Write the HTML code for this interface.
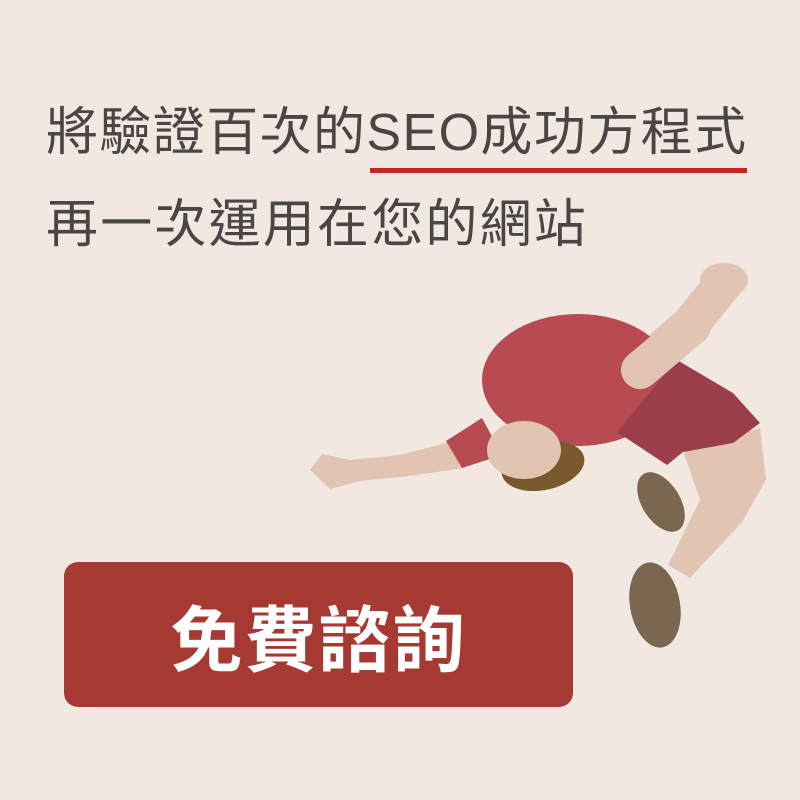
<!DOCTYPE html>
<html><head><meta charset="utf-8"><style>
html,body{margin:0;padding:0}
body{width:800px;height:800px;background:#f1e8e1;position:relative;overflow:hidden;font-family:"Liberation Sans","Noto Sans CJK TC",sans-serif}
.t{position:absolute;left:46px;color:#4a4646;font-size:52px;white-space:nowrap;letter-spacing:1.4px}
#btn{position:absolute;left:64px;top:562px;width:509px;height:145px;border-radius:14px;background:#a63a32;color:#fff;font-size:72px;font-weight:bold;display:flex;align-items:center;justify-content:center;letter-spacing:2px}
</style></head><body>
<div class="t" style="top:90px">將驗證百次的<span style="position:relative">SEO成功方程式<span style="position:absolute;left:4px;right:0px;top:64px;height:5px;background:#c0281e"></span></span></div>
<div class="t" style="top:182px;letter-spacing:2.2px">再一次運用在您的網站</div>
<svg width="800" height="800" style="position:absolute;left:0;top:0">
<path d="M640,368 L690,325 L724,283" stroke="#e1c4b2" stroke-width="38" stroke-linecap="round" stroke-linejoin="round" fill="none"/>
<ellipse cx="724" cy="280" rx="24" ry="17" fill="#e1c4b2"/>
<path d="M683,450 L760,428 L766,480 L742,522 L690,578 L668,565 L700,500 Z" fill="#e1c4b2"/>
<ellipse cx="578" cy="380" rx="96" ry="66" fill="#b84a52"/>
<path d="M617,432 L677,360 L733,393 L760,423 L733,443 L683,452 L667,465 Z" fill="#9a3e4b"/>
<path d="M640,370 L692,326" stroke="#e1c4b2" stroke-width="38" stroke-linecap="round" fill="none"/>
<path d="M458,440 L400,455 L350,460 L322,454 L310,470 L330,489 L360,481 L410,476 L464,468 Z" fill="#e1c4b2"/>
<path d="M446,441 L482,418 L502,455 L462,468 Z" fill="#b84a52"/>
<ellipse cx="661" cy="502" rx="19" ry="33" transform="rotate(-32 661 502)" fill="#7b6650"/>
<ellipse cx="655" cy="605" rx="25" ry="43" transform="rotate(-10 655 605)" fill="#7b6650"/>
<ellipse cx="543" cy="466" rx="42" ry="24" transform="rotate(-12 543 466)" fill="#7a5a2d"/>
<ellipse cx="524" cy="450" rx="37" ry="29" fill="#e1c4b2"/>
</svg>
<div id="btn">免費諮詢</div>
</body></html>
